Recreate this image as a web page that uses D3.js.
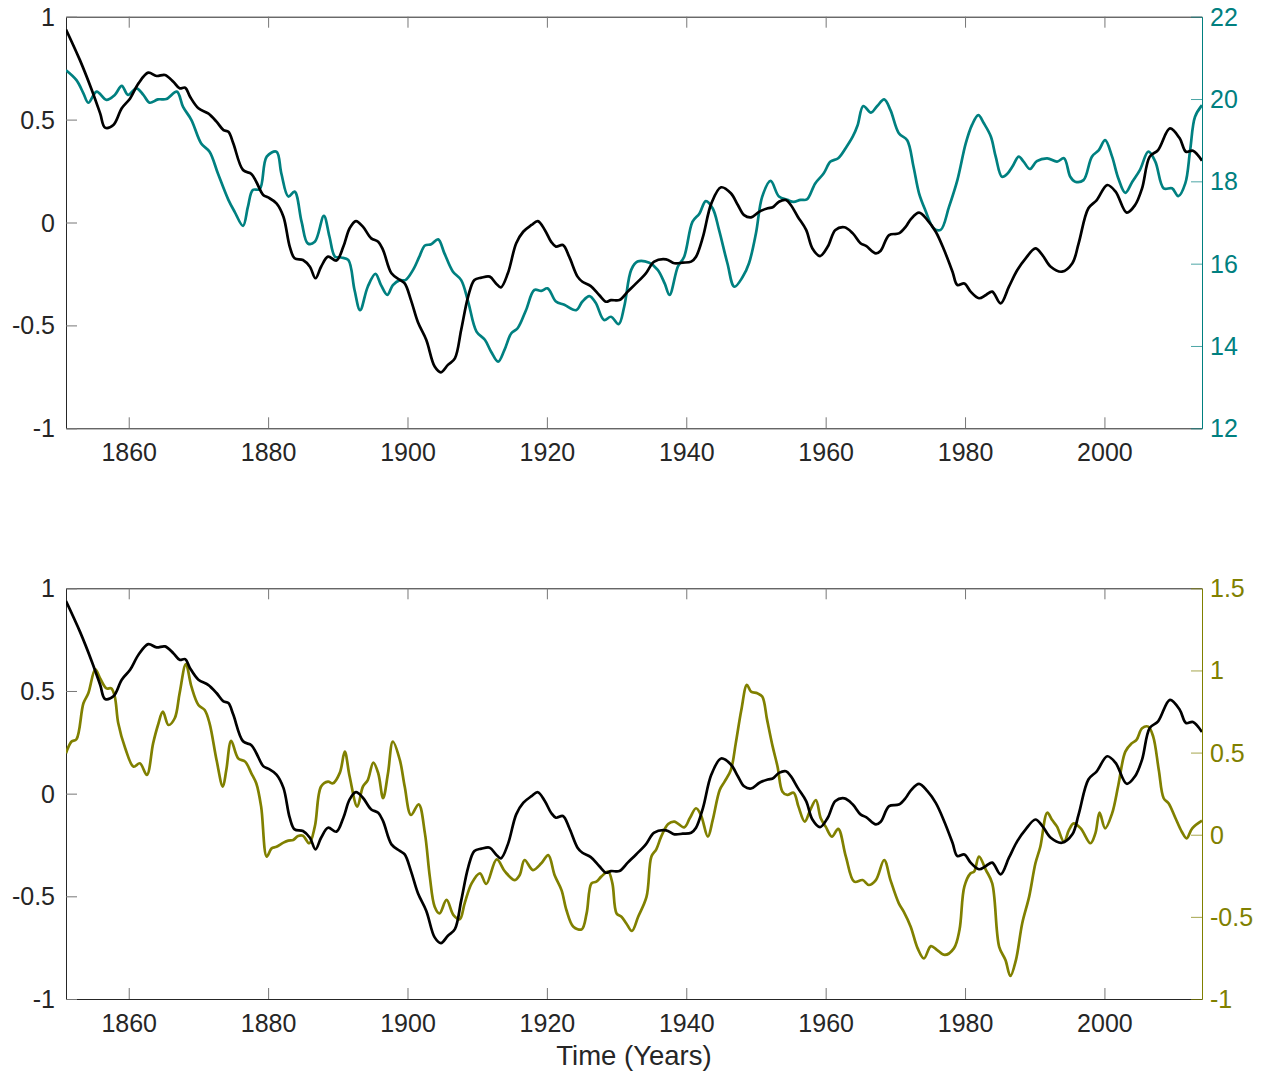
<!DOCTYPE html>
<html>
<head>
<meta charset="utf-8">
<script src="https://cdn.jsdelivr.net/npm/d3@7"></script>
<style>
  html, body { margin: 0; padding: 0; background: #fff; }
  svg { display: block; }
  text { font-family: "Liberation Sans", Arial, Helvetica, sans-serif; }
</style>
</head>
<body>
<svg id="chart" width="1265" height="1072"></svg>
<script>
// ---------- DATA (year, value) ----------
const blackSeries = [
[1851.0,0.938],[1853.0,0.789],[1854.7,0.644],[1855.9,0.530],[1856.6,0.461],[1857.8,0.474],[1859.0,0.555],[1860.2,0.603],
[1861.4,0.676],[1862.8,0.728],[1864.0,0.712],[1865.2,0.717],[1866.4,0.684],[1867.3,0.652],[1868.1,0.655],[1868.8,0.611],
[1870.0,0.555],[1871.4,0.530],[1872.6,0.490],[1873.6,0.449],[1874.3,0.441],[1875.0,0.385],[1876.4,0.255],[1877.6,0.236],
[1878.3,0.198],[1879.3,0.134],[1880.0,0.122],[1881.2,0.093],[1882.2,0.028],[1883.1,-0.117],[1883.8,-0.174],[1885.0,-0.182],
[1886.0,-0.215],[1886.8,-0.271],[1887.6,-0.215],[1888.6,-0.166],[1889.8,-0.185],[1890.8,-0.117],[1891.7,-0.028],[1892.6,0.007],
[1893.6,-0.020],[1894.8,-0.077],[1895.8,-0.093],[1896.5,-0.134],[1897.7,-0.247],[1898.9,-0.279],[1899.6,-0.296],[1900.5,-0.377],
[1901.5,-0.485],[1902.7,-0.571],[1903.9,-0.700],[1904.8,-0.728],[1905.8,-0.692],[1906.8,-0.660],[1907.7,-0.522],[1908.7,-0.360],
[1909.6,-0.279],[1910.6,-0.268],[1911.8,-0.263],[1912.7,-0.296],[1913.4,-0.315],[1914.4,-0.247],[1915.6,-0.101],[1916.6,-0.045],
[1917.8,-0.012],[1918.7,0.007],[1919.7,-0.036],[1920.6,-0.093],[1921.3,-0.117],[1922.3,-0.109],[1923.2,-0.166],[1924.4,-0.263],
[1925.1,-0.288],[1926.3,-0.309],[1927.5,-0.352],[1928.5,-0.385],[1929.2,-0.377],[1930.4,-0.377],[1931.6,-0.336],[1932.8,-0.296],
[1934.2,-0.247],[1935.4,-0.190],[1937.1,-0.179],[1938.3,-0.198],[1939.5,-0.195],[1940.7,-0.190],[1941.4,-0.166],[1942.4,-0.069],
[1943.6,0.093],[1945.0,0.171],[1946.4,0.142],[1947.4,0.085],[1948.3,0.036],[1949.3,0.025],[1950.5,0.053],[1951.7,0.069],
[1952.4,0.074],[1953.3,0.101],[1954.3,0.109],[1955.0,0.085],[1956.0,0.028],[1957.2,-0.036],[1958.1,-0.126],[1959.2,-0.163],
[1960.3,-0.117],[1961.4,-0.036],[1962.7,-0.023],[1963.9,-0.053],[1965.0,-0.101],[1965.8,-0.114],[1967.2,-0.150],[1967.9,-0.137],
[1969.1,-0.061],[1970.5,-0.053],[1971.5,-0.020],[1972.2,0.015],[1973.4,0.048],[1974.6,0.012],[1975.8,-0.045],[1977.0,-0.134],
[1978.2,-0.239],[1978.9,-0.304],[1979.9,-0.296],[1980.8,-0.336],[1982.0,-0.368],[1983.0,-0.352],[1983.9,-0.336],[1985.1,-0.393],
[1986.3,-0.312],[1987.5,-0.231],[1988.7,-0.174],[1990.1,-0.126],[1991.1,-0.158],[1992.3,-0.215],[1993.9,-0.239],[1995.4,-0.198],
[1996.3,-0.101],[1997.7,0.069],[1998.9,0.109],[2000.4,0.182],[2001.6,0.150],[2003.2,0.048],[2004.4,0.085],[2005.4,0.166],
[2006.5,0.320],[2007.7,0.352],[2009.4,0.457],[2010.8,0.409],[2011.7,0.344],[2012.7,0.349],[2014.0,0.300]
];

const tealSeries = [
[1851.0,20.70],[1852.5,20.46],[1853.5,20.14],[1854.2,19.91],[1855.4,20.18],[1856.8,19.98],[1858.0,20.10],[1859.0,20.32],
[1859.9,20.10],[1861.1,20.26],[1862.1,20.10],[1863.0,19.91],[1864.2,19.99],[1865.4,20.00],[1866.9,20.18],[1867.8,19.81],
[1869.0,19.49],[1870.4,18.92],[1871.6,18.72],[1872.8,18.19],[1874.3,17.55],[1875.2,17.26],[1876.4,16.92],[1877.1,17.38],
[1877.8,17.79],[1878.8,17.81],[1879.8,18.60],[1881.2,18.72],[1881.9,18.19],[1882.9,17.63],[1883.8,17.75],[1884.8,17.02],
[1885.7,16.49],[1886.7,16.53],[1888.0,17.16],[1888.8,16.66],[1889.6,16.17],[1890.5,16.15],[1891.5,16.09],[1892.4,15.36],
[1893.2,14.87],[1894.3,15.44],[1895.4,15.75],[1896.2,15.48],[1897.1,15.24],[1897.9,15.48],[1898.9,15.60],[1899.7,15.60],
[1900.8,15.85],[1901.7,16.17],[1902.5,16.44],[1903.4,16.47],[1904.4,16.59],[1905.3,16.25],[1906.5,15.81],[1907.7,15.60],
[1908.7,15.08],[1909.9,14.35],[1911.1,14.15],[1912.0,13.86],[1913.0,13.62],[1913.9,13.90],[1914.9,14.31],[1915.8,14.43],
[1917.0,14.87],[1918.2,15.36],[1919.2,15.34],[1920.1,15.40],[1921.3,15.08],[1922.5,15.00],[1924.2,14.87],[1925.1,15.08],
[1926.1,15.21],[1927.0,15.05],[1928.2,14.63],[1929.2,14.71],[1930.3,14.53],[1931.1,14.96],[1932.1,15.85],[1933.0,16.05],
[1934.7,16.02],[1935.9,15.85],[1936.9,15.52],[1937.6,15.24],[1938.8,15.93],[1939.7,16.17],[1940.9,17.02],[1941.9,17.22],
[1942.8,17.52],[1943.8,17.34],[1944.7,16.82],[1945.9,16.01],[1946.9,15.44],[1948.1,15.68],[1949.0,16.01],[1950.0,16.74],
[1950.9,17.63],[1952.1,18.01],[1953.3,17.63],[1954.5,17.55],[1955.4,17.50],[1956.4,17.55],[1957.3,17.56],[1958.5,17.95],
[1959.7,18.19],[1960.7,18.48],[1961.8,18.56],[1963.0,18.84],[1963.9,19.09],[1964.6,19.37],[1965.4,19.83],[1966.5,19.67],
[1967.4,19.83],[1968.4,19.99],[1969.3,19.73],[1970.5,19.17],[1971.7,19.00],[1972.6,18.36],[1973.4,17.71],[1974.3,17.30],
[1975.5,16.86],[1976.5,16.82],[1977.7,17.38],[1978.9,18.03],[1980.1,18.92],[1981.0,19.37],[1981.9,19.61],[1982.7,19.41],
[1983.7,19.09],[1984.4,18.60],[1985.3,18.11],[1986.1,18.19],[1986.8,18.36],[1987.7,18.60],[1988.4,18.48],[1989.3,18.30],
[1990.3,18.49],[1991.8,18.56],[1993.2,18.48],[1994.2,18.56],[1995.1,18.11],[1995.8,17.99],[1997.0,18.03],[1998.2,18.60],
[1999.2,18.76],[2000.1,19.00],[2001.1,18.60],[2002.0,18.07],[2003.0,17.72],[2004.0,17.99],[2005.1,18.28],[2006.3,18.72],
[2007.3,18.48],[2008.5,17.83],[2009.7,17.83],[2010.6,17.64],[2011.6,17.95],[2012.3,18.76],[2013.0,19.57],[2014.0,19.85]
];

const oliveSeries = [
[1851.0,0.496],[1851.8,0.567],[1852.5,0.581],[1853.5,0.800],[1854.2,0.861],[1855.2,1.007],[1855.9,0.952],[1856.8,0.891],
[1857.5,0.891],[1858.0,0.841],[1858.5,0.678],[1859.5,0.526],[1860.7,0.414],[1861.6,0.435],[1862.6,0.364],[1863.5,0.556],
[1864.2,0.668],[1864.9,0.749],[1865.7,0.668],[1866.6,0.709],[1867.3,0.861],[1868.2,1.039],[1869.0,0.901],[1870.0,0.790],
[1870.9,0.759],[1871.6,0.678],[1872.6,0.455],[1873.5,0.293],[1874.0,0.394],[1874.7,0.571],[1875.7,0.465],[1876.7,0.445],
[1877.6,0.374],[1878.3,0.313],[1879.0,0.171],[1879.8,-0.133],[1880.5,-0.083],[1881.2,-0.073],[1882.2,-0.048],[1882.9,-0.036],
[1883.6,-0.032],[1884.3,-0.008],[1885.0,-0.006],[1885.9,-0.052],[1886.7,0.049],[1887.6,0.293],[1888.6,0.323],[1889.3,0.313],
[1890.3,0.378],[1891.0,0.506],[1891.7,0.354],[1892.8,0.171],[1893.6,0.293],[1894.3,0.333],[1895.1,0.439],[1895.8,0.374],
[1896.5,0.222],[1897.2,0.374],[1897.9,0.567],[1898.9,0.455],[1899.6,0.293],[1900.5,0.120],[1901.6,0.185],[1902.5,0.008],
[1903.2,-0.255],[1903.9,-0.438],[1904.6,-0.479],[1905.6,-0.397],[1906.6,-0.489],[1907.5,-0.515],[1908.2,-0.418],[1909.2,-0.296],
[1910.4,-0.235],[1911.3,-0.300],[1912.8,-0.150],[1914.0,-0.225],[1915.4,-0.276],[1916.1,-0.245],[1916.8,-0.154],[1918.0,-0.215],
[1919.2,-0.174],[1920.2,-0.124],[1921.1,-0.245],[1922.1,-0.337],[1922.8,-0.458],[1923.8,-0.560],[1925.0,-0.576],[1925.7,-0.479],
[1926.4,-0.296],[1927.1,-0.286],[1927.8,-0.255],[1928.8,-0.225],[1929.4,-0.296],[1930.0,-0.479],[1930.7,-0.499],[1931.4,-0.540],
[1932.2,-0.586],[1933.1,-0.499],[1934.3,-0.377],[1935.0,-0.133],[1935.7,-0.089],[1936.4,-0.012],[1937.4,0.065],[1938.3,0.080],
[1939.7,0.045],[1940.5,0.100],[1941.4,0.161],[1942.1,0.120],[1943.1,-0.012],[1943.8,0.090],[1944.8,0.272],[1945.5,0.323],
[1946.4,0.394],[1947.1,0.556],[1947.9,0.759],[1948.7,0.912],[1949.3,0.871],[1950.2,0.861],[1950.9,0.841],[1951.6,0.699],
[1952.4,0.536],[1953.1,0.414],[1953.8,0.262],[1954.5,0.242],[1955.4,0.256],[1956.1,0.171],[1957.0,0.080],[1957.8,0.151],
[1958.6,0.211],[1959.3,0.100],[1960.0,0.049],[1960.9,-0.012],[1961.8,0.036],[1962.9,-0.133],[1964.1,-0.286],[1965.3,-0.276],
[1966.2,-0.306],[1967.2,-0.276],[1968.4,-0.154],[1969.3,-0.276],[1970.5,-0.418],[1971.2,-0.468],[1972.2,-0.560],[1973.2,-0.692],
[1974.1,-0.753],[1975.1,-0.678],[1976.0,-0.702],[1977.1,-0.732],[1978.4,-0.692],[1979.2,-0.580],[1979.9,-0.316],[1980.8,-0.235],
[1981.3,-0.225],[1982.0,-0.133],[1983.0,-0.215],[1983.9,-0.296],[1984.9,-0.682],[1985.8,-0.763],[1986.5,-0.860],[1987.3,-0.763],
[1988.2,-0.540],[1989.2,-0.377],[1990.1,-0.174],[1990.8,-0.073],[1991.8,0.134],[1992.5,0.089],[1993.2,0.049],[1994.2,-0.043],
[1994.9,0.028],[1995.6,0.069],[1996.6,0.039],[1998.0,-0.052],[1998.7,0.008],[1999.3,0.134],[2000.1,0.039],[2001.1,0.130],
[2002.0,0.303],[2003.0,0.506],[2003.9,0.556],[2004.6,0.577],[2005.4,0.648],[2006.3,0.658],[2007.0,0.597],[2007.8,0.394],
[2008.5,0.222],[2009.2,0.191],[2010.2,0.100],[2011.1,0.018],[2011.8,-0.022],[2012.6,0.039],[2014.0,0.085]
];

const xDomain = [1851, 2014];
const xTicks = [1860, 1880, 1900, 1920, 1940, 1960, 1980, 2000];
const leftTicks = [-1, -0.5, 0, 0.5, 1];
const topRightDomain = [12, 22];
const topRightTicks = [12, 14, 16, 18, 20, 22];
const botRightDomain = [-1, 1.5];
const botRightTicks = [-1, -0.5, 0, 0.5, 1, 1.5];
const xLabelText = "Time (Years)";

// ---------- STYLE / LAYOUT ----------
const TEAL = "#008080", OLIVE = "#808000", AXC = "#262626";
const L = 66, R = 1202;
const panels = [
  { top: 16.7, bottom: 428.3, right: tealSeries, rDom: topRightDomain, rTicks: topRightTicks, color: TEAL },
  { top: 588.3, bottom: 999, right: oliveSeries, rDom: botRightDomain, rTicks: botRightTicks, color: OLIVE }
];
const TL = 11;
const FS = 25;

const svg = d3.select("#chart");
const x = d3.scaleLinear().domain(xDomain).range([L, R]);
const fmt = d => String(d);

panels.forEach((p, i) => {
  const yL = d3.scaleLinear().domain([-1, 1]).range([p.bottom, p.top]);
  const yR = d3.scaleLinear().domain(p.rDom).range([p.bottom, p.top]);
  const g = svg.append("g");
  const clipId = "clip" + i;
  svg.append("clipPath").attr("id", clipId).append("rect")
    .attr("x", L).attr("y", p.top).attr("width", R - L).attr("height", p.bottom - p.top);

  const xb = g.append("g").attr("transform", `translate(0,${p.bottom})`)
    .call(d3.axisBottom(x).tickValues(xTicks).tickFormat(fmt).tickSizeInner(-TL).tickSizeOuter(0));
  const xt = g.append("g").attr("transform", `translate(0,${p.top})`)
    .call(d3.axisTop(x).tickValues(xTicks).tickFormat("").tickSizeInner(-TL).tickSizeOuter(0));
  const yl = g.append("g").attr("transform", `translate(${L},0)`)
    .call(d3.axisLeft(yL).tickValues(leftTicks).tickFormat(fmt).tickSizeInner(-TL).tickSizeOuter(0));
  const yr = g.append("g").attr("transform", `translate(${R},0)`)
    .call(d3.axisRight(yR).tickValues(p.rTicks).tickFormat(fmt).tickSizeInner(-TL).tickSizeOuter(0));

  [xb, xt, yl].forEach(a => {
    a.select(".domain").attr("stroke", AXC).attr("stroke-width", 1);
    a.selectAll(".tick line").attr("stroke", "#777").attr("stroke-width", 1);
    a.selectAll(".tick text").attr("fill", AXC).style("font-size", FS + "px")
      .style("font-family", '"Liberation Sans", Arial, sans-serif');
  });
  yr.select(".domain").attr("stroke", p.color).attr("stroke-width", 1);
  yr.selectAll(".tick line").attr("stroke", p.color).attr("stroke-opacity", 0.7);
  yr.selectAll(".tick text").attr("fill", p.color).style("font-size", FS + "px")
    .style("font-family", '"Liberation Sans", Arial, sans-serif');

  xb.selectAll(".tick text").attr("dy", "0.71em").attr("y", 15);
  yl.selectAll(".tick text").attr("x", -11).attr("dy", "0.34em");
  yr.selectAll(".tick text").attr("x", 8).attr("dy", "0.34em");

  const lineL = d3.line().x(d => x(d[0])).y(d => yL(d[1])).curve(d3.curveCatmullRom.alpha(0.5));
  const lineR = d3.line().x(d => x(d[0])).y(d => yR(d[1])).curve(d3.curveCatmullRom.alpha(0.5));
  const lg = g.append("g").attr("clip-path", `url(#${clipId})`);
  lg.append("path").datum(p.right).attr("d", lineR)
    .attr("fill", "none").attr("stroke", p.color).attr("stroke-width", 2.7).attr("stroke-linejoin", "round");
  lg.append("path").datum(blackSeries).attr("d", lineL)
    .attr("fill", "none").attr("stroke", "#000").attr("stroke-width", 2.7).attr("stroke-linejoin", "round");
});

svg.append("text").attr("x", (L + R) / 2).attr("y", 1065)
  .attr("text-anchor", "middle").attr("fill", AXC)
  .style("font-size", "27.5px").text(xLabelText);
</script>
</body>
</html>
